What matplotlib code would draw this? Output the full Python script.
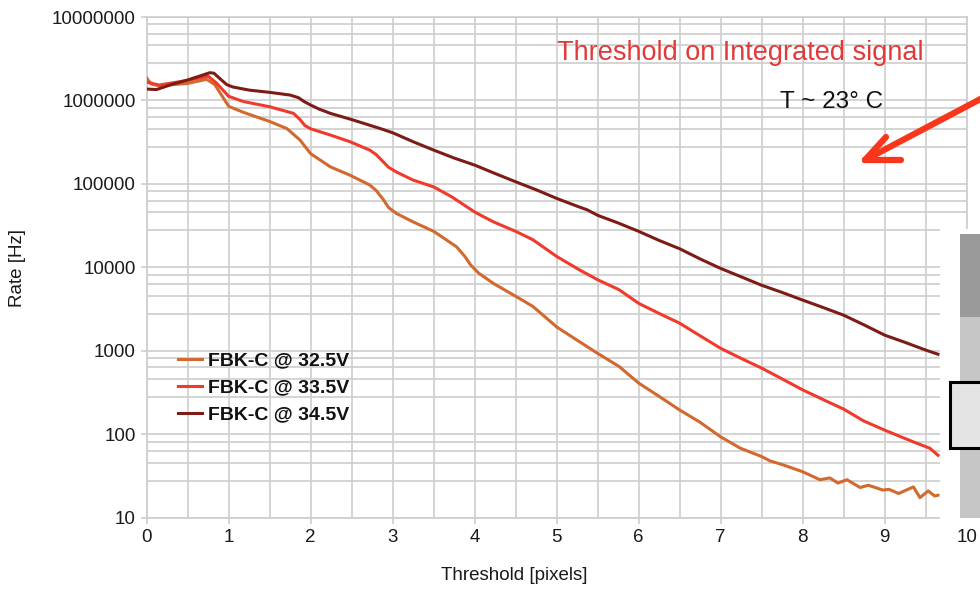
import numpy as np
import matplotlib
matplotlib.use("Agg")
import matplotlib.pyplot as plt
from matplotlib.ticker import FixedLocator, NullFormatter
from matplotlib.lines import Line2D
from matplotlib.patches import Rectangle

plt.rcParams['font.family'] = ['Liberation Sans', 'DejaVu Sans']

# ---- data (threshold in pixels, rate in Hz) ----
x_345 = [0.0, 0.12, 0.3, 0.5, 0.7, 0.77, 0.82, 0.9, 0.975, 1.05, 1.25, 1.5, 1.75, 1.85, 1.92,
         2.0, 2.1, 2.24, 2.5, 2.85, 3.0, 3.25, 3.5, 3.75, 4.0, 4.25, 4.5, 4.75, 5.0, 5.25,
         5.37, 5.5, 5.75, 6.0, 6.25, 6.5, 6.75, 7.0, 7.25, 7.5, 7.75, 8.0, 8.25, 8.5, 8.75,
         9.0, 9.25, 9.5, 9.65]
rate_345 = [1.37e6, 1.35e6, 1.55e6, 1.76e6, 2.04e6, 2.15e6, 2.12e6, 1.8e6, 1.55e6, 1.45e6,
            1.33e6, 1.25e6, 1.16e6, 1.08e6, 9.7e5, 8.8e5, 7.9e5, 7.0e5, 5.9e5, 4.6e5, 4.1e5,
            3.2e5, 2.54e5, 2.04e5, 1.68e5, 1.33e5, 1.06e5, 8.5e4, 6.7e4, 5.4e4, 4.9e4, 4.2e4,
            3.4e4, 2.7e4, 2.1e4, 1.67e4, 1.26e4, 9700, 7700, 6100, 5000, 4050, 3300, 2670,
            2040, 1540, 1260, 1020, 910]

x_335 = [0.0, 0.15, 0.5, 0.75, 0.85, 1.0, 1.18, 1.5, 1.79, 1.87, 1.93, 2.0, 2.24, 2.48, 2.72,
         2.8, 2.88, 2.95, 3.05, 3.25, 3.5, 3.72, 4.0, 4.23, 4.5, 4.71, 5.0, 5.28, 5.5, 5.76,
         6.0, 6.25, 6.5, 6.75, 7.0, 7.25, 7.5, 7.75, 8.0, 8.25, 8.5, 8.74, 9.0, 9.2, 9.35,
         9.55, 9.65]
rate_335 = [1.66e6, 1.53e6, 1.74e6, 1.95e6, 1.62e6, 1.12e6, 9.7e5, 8.4e5, 7.0e5, 5.9e5, 5.0e5,
            4.57e5, 3.85e5, 3.2e5, 2.54e5, 2.24e5, 1.86e5, 1.58e5, 1.38e5, 1.11e5, 9.2e4,
            7.0e4, 4.6e4, 3.5e4, 2.7e4, 2.14e4, 1.35e4, 9300, 7100, 5400, 3700, 2800, 2140,
            1510, 1070, 810, 620, 460, 340, 260, 200, 145, 112, 93, 81, 68, 56]

x_325 = [0.0, 0.05, 0.15, 0.5, 0.73, 0.83, 1.0, 1.18, 1.5, 1.71, 1.87, 2.0, 2.24, 2.48, 2.72,
         2.8, 2.88, 2.95, 3.05, 3.25, 3.5, 3.78, 3.88, 3.95, 4.05, 4.23, 4.5, 4.71, 5.0, 5.28,
         5.5, 5.76, 6.0, 6.26, 6.5, 6.74, 7.0, 7.24, 7.5, 7.6, 7.76, 8.0, 8.21, 8.33, 8.43,
         8.54, 8.70, 8.80, 8.98, 9.05, 9.17, 9.35, 9.43, 9.53, 9.61, 9.65]
rate_325 = [1.86e6, 1.58e6, 1.5e6, 1.6e6, 1.79e6, 1.55e6, 8.5e5, 7.2e5, 5.6e5, 4.6e5, 3.35e5,
            2.3e5, 1.6e5, 1.27e5, 9.7e4, 8.3e4, 6.6e4, 5.2e4, 4.4e4, 3.5e4, 2.7e4, 1.76e4,
            1.35e4, 1.07e4, 8500, 6400, 4500, 3400, 1930, 1280, 930, 650, 410, 280, 195, 141,
            93, 68, 54, 48, 43, 35.5, 28.5, 30, 26, 28.5, 23, 24.5, 21.4, 21.9, 19.5, 23.4,
            17.4, 20.9, 18.2, 18.6]

labels = ["FBK-C @ 32.5V", "FBK-C @ 33.5V", "FBK-C @ 34.5V"]
colors = ["#d2692e", "#f03a2c", "#7d1c16"]

x_ticks = [0, 1, 2, 3, 4, 5, 6, 7, 8, 9, 10]
y_ticks = [1e1, 1e2, 1e3, 1e4, 1e5, 1e6, 1e7]
y_tick_labels = ["10", "100", "1000", "10000", "100000", "1000000", "10000000"]

W, H = 980, 592
fig = plt.figure(figsize=(9.8, 5.92), dpi=100)
ax = fig.add_axes([146.7 / W, 1 - 517.7 / H, 820 / W, (517.7 - 17) / H])

grid_c = "#cdcdcd"
for xs, ys, c, lab in zip([x_325, x_335, x_345], [rate_325, rate_335, rate_345], colors, labels):
    ax.plot(xs, ys, color=c, lw=2.2, label=lab, solid_joinstyle='round', zorder=3)

ax.set_yscale('log')
ax.set_xlim(0, 10)
ax.set_ylim(10, 1e7)

ax.xaxis.set_major_locator(FixedLocator(x_ticks))
ax.xaxis.set_minor_locator(FixedLocator(np.arange(0.5, 10, 1.0)))
ax.yaxis.set_major_locator(FixedLocator(y_ticks))
ax.set_yticklabels(y_tick_labels)
minor_y = []
for d in range(2, 8):
    for f in [0.088, 0.2, 0.34, 0.556]:
        minor_y.append(10 ** (d - f))
ax.yaxis.set_minor_locator(FixedLocator(minor_y))
ax.yaxis.set_minor_formatter(NullFormatter())
ax.xaxis.set_minor_formatter(NullFormatter())

ax.grid(True, which='both', color=grid_c, lw=1.2, zorder=0)
ax.set_axisbelow(True)
for s in ax.spines.values():
    s.set_color(grid_c)
    s.set_linewidth(1.2)
ax.tick_params(which='major', length=4, width=1.2, color=grid_c, labelsize=13.5,
               labelcolor="#1a1a1a", pad=4)
ax.tick_params(which='minor', length=0)

fig.text(18 / W, 1 - 268 / H, "Rate [Hz]", rotation=90, ha='center', va='center',
         fontsize=13.5, color="#1a1a1a")
fig.text(514 / W, 1 - 576 / H, "Threshold [pixels]", ha='center', va='center',
         fontsize=13.5, color="#1a1a1a")

leg = ax.legend(loc='upper left', bbox_to_anchor=((178 - 146.7) / 820, (517.7 - 352) / 500.7),
                frameon=False, borderpad=0, borderaxespad=0, handlelength=1.25,
                handletextpad=0.3, labelspacing=0.48,
                prop={'family': 'Liberation Sans', 'weight': 'bold', 'size': 14})
for t in leg.get_texts():
    t.set_color("#111111")

fig.text(740 / W, 1 - 53 / H, "Threshold on Integrated signal", ha='center', va='center',
         fontsize=19.5, color="#e03a3a")
fig.text(832 / W, 1 - 102 / H, "T ~ 23° C", ha='center', va='center',
         fontsize=17.5, color="#111111")

# arrow (figure pixel coords, y down)
def fp(x, y):
    return x / W, 1 - y / H

arrow_c = "#f7361c"
for (x0, y0), (x1, y1) in [((865, 160), (990, 94)), ((865, 160), (886, 137)), ((865, 160), (901, 160))]:
    a, b = fp(x0, y0)
    c, d = fp(x1, y1)
    fig.add_artist(Line2D([a, c], [b, d], transform=fig.transFigure, color=arrow_c, lw=4.5,
                          solid_capstyle='round', solid_joinstyle='round', zorder=10))

# overlay image fragment at right
def rect(x0, y0, x1, y1, **kw):
    a, b = fp(x0, y1)
    fig.add_artist(Rectangle((a, b), (x1 - x0) / W, (y1 - y0) / H, transform=fig.transFigure, **kw))

rect(940, 229, 985, 524, facecolor='white', edgecolor='none', zorder=20)
rect(960, 234, 985, 317, facecolor='#9a9a9a', edgecolor='none', zorder=21)
rect(960, 317, 985, 518, facecolor='#c6c6c6', edgecolor='none', zorder=21)
rect(949.5, 382, 990, 448, facecolor='#e4e4e4', edgecolor='black', lw=2.2, zorder=22)

fig.savefig("out.png", dpi=100)
